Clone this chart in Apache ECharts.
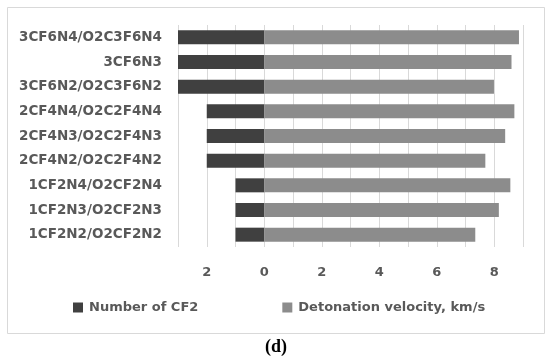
<!DOCTYPE html>
<html><head><meta charset="utf-8">
<script src="https://cdn.jsdelivr.net/npm/echarts@6/dist/echarts.min.js"></script>
<style>html,body{margin:0;padding:0;background:#fff}#c{width:550px;height:364px}</style>
</head><body><div id="c"></div>
<script>
const categories = ["3CF6N4/O2C3F6N4","3CF6N3","3CF6N2/O2C3F6N2","2CF4N4/O2C2F4N4","2CF4N3/O2C2F4N3","2CF4N2/O2C2F4N2","1CF2N4/O2CF2N4","1CF2N3/O2CF2N3","1CF2N2/O2CF2N2"];
const numberOfCF2 = [3,3,3,2,2,2,1,1,1];
const detonationVelocity = [8.86,8.60,7.99,8.70,8.38,7.69,8.56,8.16,7.34];
const seriesNames = ["Number of CF2","Detonation velocity, km/s"];
const tickLabels = {"-2":"2","0":"0","2":"2","4":"4","6":"6","8":"8"};

const chart = echarts.init(document.getElementById('c'), null, {renderer:'canvas'});
const font = '"DejaVu Sans", sans-serif';
chart.setOption({
  animation:false,
  backgroundColor:'#fff',
  graphic:[
    {type:'rect', shape:{x:7.5,y:7.5,width:537,height:326}, style:{fill:'none',stroke:'#d9d9d9',lineWidth:1}, z:-1},
    {type:'text', left:265, top:338, style:{text:'(d)', font:'bold 18px "Liberation Serif", serif', fill:'#000'}}
  ],
  grid:{left:178, right:27, top:25, bottom:117, containLabel:false},
  legend:{
    left:68, top:296, itemWidth:10, itemHeight:10, itemGap:84, icon:'rect',
    textStyle:{fontFamily:font, fontWeight:'bold', fontSize:13, color:'#595959', padding:[0,0,0,1]},
    data:seriesNames
  },
  xAxis:{
    type:'value', min:-3, max:9, interval:1,
    axisLine:{show:false}, axisTick:{show:false},
    splitLine:{show:true, lineStyle:{color:'#d9d9d9', width:1}},
    axisLabel:{margin:19, fontFamily:font, fontWeight:'bold', fontSize:13, color:'#595959',
      formatter:v => tickLabels[String(v)] || ''}
  },
  yAxis:{
    type:'category', data:categories, inverse:true,
    axisLine:{show:false}, axisTick:{show:false}, splitLine:{show:false},
    axisLabel:{margin:16, fontFamily:font, fontWeight:'bold', fontSize:13.5, color:'#595959'}
  },
  series:[
    {name:seriesNames[0], type:'bar', data:numberOfCF2.map(v=>-v), barWidth:14, barGap:'-100%',
     itemStyle:{color:'#404040'}},
    {name:seriesNames[1], type:'bar', data:detonationVelocity, barWidth:14, barGap:'-100%',
     itemStyle:{color:'#8c8c8c'}}
  ]
});
</script></body></html>
